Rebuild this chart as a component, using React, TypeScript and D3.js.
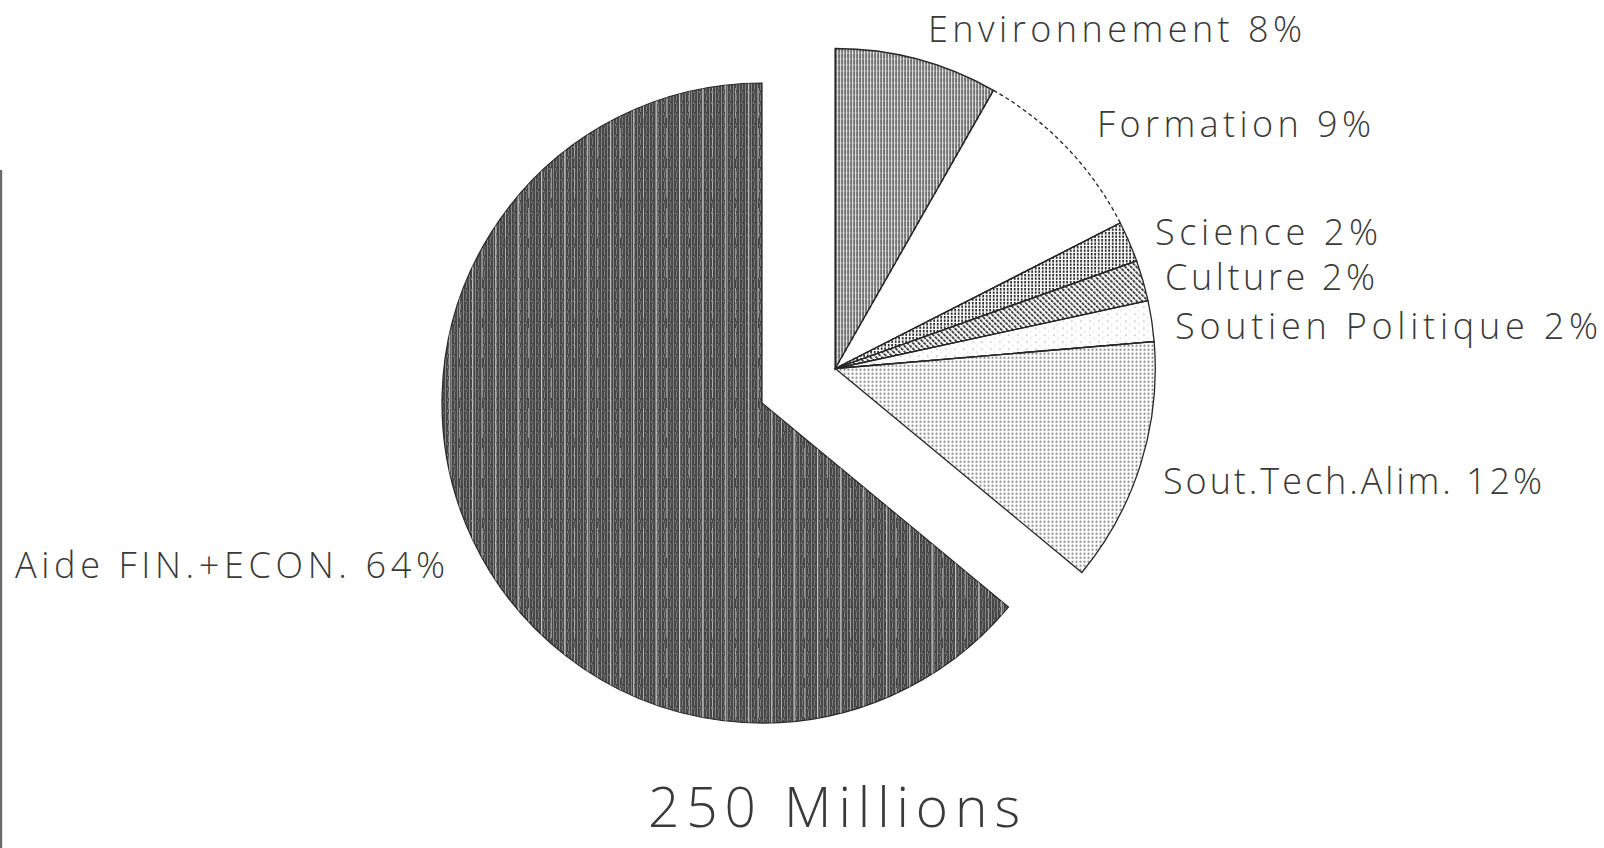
import React from "react";
import * as d3 from "d3";

// ---- data ----
const CATEGORIES = [
  "Environnement",
  "Formation",
  "Science",
  "Culture",
  "Soutien Politique",
  "Sout.Tech.Alim.",
];
const SHARES = [8, 9, 2, 2, 2, 12]; // percent
const MAIN_CATEGORY = "Aide FIN.+ECON.";
const MAIN_SHARE = 64; // percent
const TOTAL_LABEL = "250 Millions";

// ---- layout / style (not data) ----
const W = 1604;
const H = 848;
const MAIN_CENTER = { x: 762, y: 403 };
const RADIUS = 320;
const EXPLODE = 81;
const FILLS = ["p-env", "p-form", "p-sci", "p-cult", "p-sp", "p-sta"];
const LABEL_LAYOUT = [
  { x: 928, y: 42, w: 374 },
  { x: 1097, y: 137, w: 274 },
  { x: 1155, y: 245, w: 223 },
  { x: 1165, y: 290, w: 210 },
  { x: 1175, y: 339, w: 423 },
  { x: 1163, y: 494, w: 379 },
];
const MAIN_LABEL_LAYOUT = { x: 15, y: 578, w: 430 };
const TITLE_LAYOUT = { x: 648, y: 827, w: 372 };
const FONT = "'Open Sans', 'DejaVu Sans', sans-serif";
const TEXT_COLOR = "#3a3a3a";

export default function App() {
  const TAU = Math.PI * 2;
  // main slice occupies its share counter-clockwise from 12 o'clock
  const mainStart = TAU * (1 - MAIN_SHARE / 100);
  const mainPie = d3
    .pie<any>()
    .sort(null)
    .value((d: any) => d.value)
    .startAngle(mainStart)
    .endAngle(TAU);
  const mainArc = mainPie([{ name: MAIN_CATEGORY, value: MAIN_SHARE }])[0];

  const items = CATEGORIES.map((c, i) => ({ name: c, value: SHARES[i], idx: i }));
  const smallPie = d3
    .pie<any>()
    .sort(null)
    .value((d: any) => d.value)
    .startAngle(0)
    .endAngle(mainStart);
  const small = smallPie(items);

  const arc = d3.arc<any>().innerRadius(0).outerRadius(RADIUS);

  const mid = mainStart / 2;
  const exX = MAIN_CENTER.x + EXPLODE * Math.sin(mid);
  const exY = MAIN_CENTER.y - EXPLODE * Math.cos(mid);

  return (
    <svg
      width={W}
      height={H}
      style={{ position: "absolute", left: 0, top: 0, background: "#fff" }}
    >
      <defs>
        {/* main slice: dark with light vertical streaks */}
        <pattern id="p-aide" width="6" height="11" patternUnits="userSpaceOnUse">
          <rect width="6" height="11" fill="#464646" />
          <rect x="1" y="0" width="1" height="11" fill="#9a9a9a" opacity="0.75" />
          <rect x="4" y="0" width="0.8" height="6" fill="#bbbbbb" opacity="0.6" />
          <rect x="3" y="7" width="1" height="2" fill="#aaaaaa" opacity="0.6" />
          <rect x="4.6" y="8" width="1" height="3" fill="#9a9a9a" opacity="0.5" />
        </pattern>
        <pattern id="p-aide2" width="23" height="40" patternUnits="userSpaceOnUse">
          <rect x="9" y="0" width="1.3" height="40" fill="#eeeeee" opacity="0.6" />
          <rect x="19" y="5" width="1" height="30" fill="#dddddd" opacity="0.5" />
        </pattern>
        {/* environnement: vertical lines */}
        <pattern id="p-env" width="3" height="6" patternUnits="userSpaceOnUse">
          <rect width="3" height="6" fill="#ffffff" />
          <rect x="0" y="0" width="1.7" height="6" fill="#4a4a4a" />
          <rect x="0.4" y="2" width="0.8" height="1" fill="#dcdcdc" />
        </pattern>
        <pattern id="p-form" width="4" height="4" patternUnits="userSpaceOnUse">
          <rect width="4" height="4" fill="#ffffff" />
        </pattern>
        {/* science: dotted vertical lines */}
        <pattern id="p-sci" width="3.5" height="3.5" patternUnits="userSpaceOnUse">
          <rect width="3.5" height="3.5" fill="#ffffff" />
          <rect x="0" y="0" width="1.8" height="2.4" fill="#2a2a2a" />
        </pattern>
        {/* culture: diagonal hatching */}
        <pattern
          id="p-cult"
          width="4"
          height="4"
          patternUnits="userSpaceOnUse"
          patternTransform="rotate(-45)"
        >
          <rect width="4" height="4" fill="#ffffff" />
          <rect x="0" y="0" width="1.7" height="3.2" fill="#2a2a2a" />
        </pattern>
        {/* soutien politique: very light speckle */}
        <pattern id="p-sp" width="9" height="7" patternUnits="userSpaceOnUse">
          <rect width="9" height="7" fill="#ffffff" />
          <rect x="2" y="1" width="1.2" height="1.2" fill="#9a9a9a" />
          <rect x="6" y="4.5" width="1" height="1" fill="#b5b5b5" />
        </pattern>
        {/* sout. tech. alim: dot grid */}
        <pattern id="p-sta" width="4" height="4" patternUnits="userSpaceOnUse">
          <rect width="4" height="4" fill="#ffffff" />
          <rect x="0.5" y="0.5" width="1.6" height="1.6" fill="#4a4a4a" />
        </pattern>
      </defs>

      {/* scan edge */}
      <rect x={0} y={170} width={2.2} height={H - 170} fill="#6a6a6a" />

      {/* main slice */}
      <g transform={`translate(${MAIN_CENTER.x},${MAIN_CENTER.y})`}>
        <path d={arc(mainArc) as string} fill="url(#p-aide)" stroke="#262626" strokeWidth={1.2} />
        <path d={arc(mainArc) as string} fill="url(#p-aide2)" stroke="none" />
      </g>

      {/* exploded slices */}
      <g transform={`translate(${exX},${exY})`}>
        {small.map((a) => (
          <path
            key={a.data.name}
            d={arc(a) as string}
            fill={`url(#${FILLS[a.data.idx]})`}
            stroke="#262626"
            strokeWidth={1.3}
            strokeDasharray={a.data.idx === 1 ? "4 3" : undefined}
          />
        ))}
        {small.map((a) => (
          <line
            key={"b" + a.data.name}
            x1={0}
            y1={0}
            x2={RADIUS * Math.sin(a.startAngle)}
            y2={-RADIUS * Math.cos(a.startAngle)}
            stroke="#262626"
            strokeWidth={1.3}
          />
        ))}
      </g>

      {/* labels */}
      {small.map((a) => {
        const L = LABEL_LAYOUT[a.data.idx];
        return (
          <text
            key={"t" + a.data.name}
            x={L.x}
            y={L.y}
            textLength={L.w}
            lengthAdjust="spacing"
            fontFamily={FONT}
            fontWeight={300}
            fontSize={36}
            fill={TEXT_COLOR}
          >
            {`${a.data.name} ${a.data.value}%`}
          </text>
        );
      })}
      <text
        x={MAIN_LABEL_LAYOUT.x}
        y={MAIN_LABEL_LAYOUT.y}
        textLength={MAIN_LABEL_LAYOUT.w}
        lengthAdjust="spacing"
        fontFamily={FONT}
        fontWeight={300}
        fontSize={36}
        fill={TEXT_COLOR}
      >
        {`${mainArc.data.name} ${mainArc.data.value}%`}
      </text>

      <text
        x={TITLE_LAYOUT.x}
        y={TITLE_LAYOUT.y}
        textLength={TITLE_LAYOUT.w}
        lengthAdjust="spacing"
        fontFamily={FONT}
        fontWeight={300}
        fontSize={55}
        fill={TEXT_COLOR}
      >
        {TOTAL_LABEL}
      </text>
    </svg>
  );
}
